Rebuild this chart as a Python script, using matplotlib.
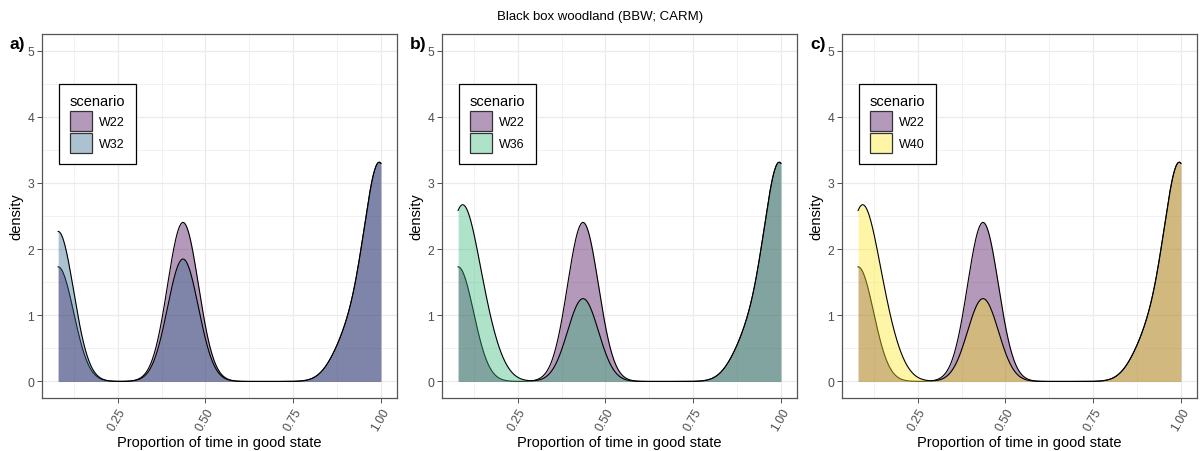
"""Density of time in good state, Black box woodland scenarios."""

import matplotlib.pyplot as plt
import numpy as np
from matplotlib.colors import to_rgba
from matplotlib.patches import Patch

plt.rcParams['font.family'] = ['Liberation Sans', 'DejaVu Sans']

title = 'Black box woodland (BBW; CARM)'
panel_tags = ['a)', 'b)', 'c)']
panel_pairs = [('W22', 'W32'), ('W22', 'W36'), ('W22', 'W40')]
colours = {'W22': '#440154', 'W32': '#31688E', 'W36': '#35B779', 'W40': '#FDE725'}

# proportion of time in good state and share of runs at each value
prop_w22 = [0.08, 0.436, 0.90, 0.95, 1.00]
share_w22 = [0.191, 0.265, 0.053, 0.041, 0.338]
prop_w32 = [0.08, 0.436, 0.90, 0.95, 1.00]
share_w32 = [0.250, 0.204, 0.053, 0.041, 0.338]
prop_w36 = [0.08, 0.12, 0.16, 0.436, 0.90, 0.95, 1.00]
share_w36 = [0.223, 0.080, 0.047, 0.138, 0.053, 0.041, 0.338]
prop_w40 = [0.08, 0.12, 0.16, 0.436, 0.90, 0.95, 1.00]
share_w40 = [0.223, 0.080, 0.047, 0.138, 0.053, 0.041, 0.338]

data = {
    'W22': (prop_w22, share_w22),
    'W32': (prop_w32, share_w32),
    'W36': (prop_w36, share_w36),
    'W40': (prop_w40, share_w40),
}

bandwidth = 0.044
x_ticks = [0.25, 0.50, 0.75, 1.00]
x_tick_labels = ['0.25', '0.50', '0.75', '1.00']
y_ticks = [0, 1, 2, 3, 4, 5]


def kde(values, shares, grid):
    """Gaussian kernel density, like ggplot's geom_density."""
    values = np.asarray(values)[:, None]
    shares = np.asarray(shares)[:, None]
    z = (grid[None, :] - values) / bandwidth
    k = np.exp(-0.5 * z ** 2) / (bandwidth * np.sqrt(2 * np.pi))
    return (shares * k).sum(axis=0)


fig = plt.figure(figsize=(12, 4.52), dpi=100)
fig.text(0.5, 1 - 17 / 452, title, ha='center', va='center', fontsize=9.5)

W, H = 1200, 452
lefts = [42, 442, 842]
for i, (ref, alt) in enumerate(panel_pairs):
    ax = fig.add_axes([lefts[i] / W, (H - 399) / H, 355 / W, 364 / H])
    lo = min(min(data[ref][0]), min(data[alt][0]))
    hi = max(max(data[ref][0]), max(data[alt][0]))
    grid = np.linspace(lo, hi, 512)

    for name in (ref, alt):
        dens = kde(*data[name], grid)
        ax.fill_between(grid, 0, dens, color=colours[name], alpha=0.4,
                        linewidth=0, zorder=2)
        ax.plot(grid, dens, color='black', lw=0.8, zorder=2)

    span = hi - lo
    ax.set_xlim(lo - 0.05 * span, hi + 0.05 * span)
    ax.set_ylim(-0.25, 5.25)
    ax.set_xticks(x_ticks)
    ax.set_xticklabels(x_tick_labels, rotation=60, ha='right', va='top',
                       rotation_mode='anchor')
    ax.set_yticks(y_ticks)
    ax.set_xticks([0.125, 0.375, 0.625, 0.875], minor=True)
    ax.set_yticks([0.5, 1.5, 2.5, 3.5, 4.5], minor=True)
    ax.tick_params(which='major', length=3.5, width=0.6, color='#333333',
                   labelsize=8.8, labelcolor='#4d4d4d', pad=2)
    ax.tick_params(which='minor', length=0)
    ax.grid(True, which='major', color='#ebebeb', lw=0.9, zorder=0)
    ax.grid(True, which='minor', color='#ebebeb', lw=0.5, zorder=0)
    ax.set_axisbelow(True)
    for sp in ax.spines.values():
        sp.set_color('#555555')
        sp.set_linewidth(0.9)
    ax.set_xlabel('Proportion of time in good state', fontsize=10.5, labelpad=2)
    ax.set_ylabel('density', fontsize=10.5, labelpad=3)

    handles = [Patch(facecolor=to_rgba(colours[n], 0.4), edgecolor='#333333',
                     linewidth=0.9, label=n) for n in (ref, alt)]
    leg = ax.legend(handles=handles, title='scenario', loc='upper left',
                    bbox_to_anchor=(0.048, 0.863), fontsize=9,
                    title_fontsize=10.5, fancybox=False, edgecolor='black',
                    framealpha=1, handlelength=1.75, handleheight=2.1,
                    labelspacing=0.18, borderpad=0.85, handletextpad=0.6,
                    borderaxespad=0)
    leg.get_frame().set_linewidth(0.9)
    leg._legend_box.align = 'left'

    fig.text((lefts[i] - 32) / W, 1 - 45 / H, panel_tags[i],
             fontsize=12.5, fontweight='bold', va='center', ha='left')

fig.savefig('out.png', dpi=100)
